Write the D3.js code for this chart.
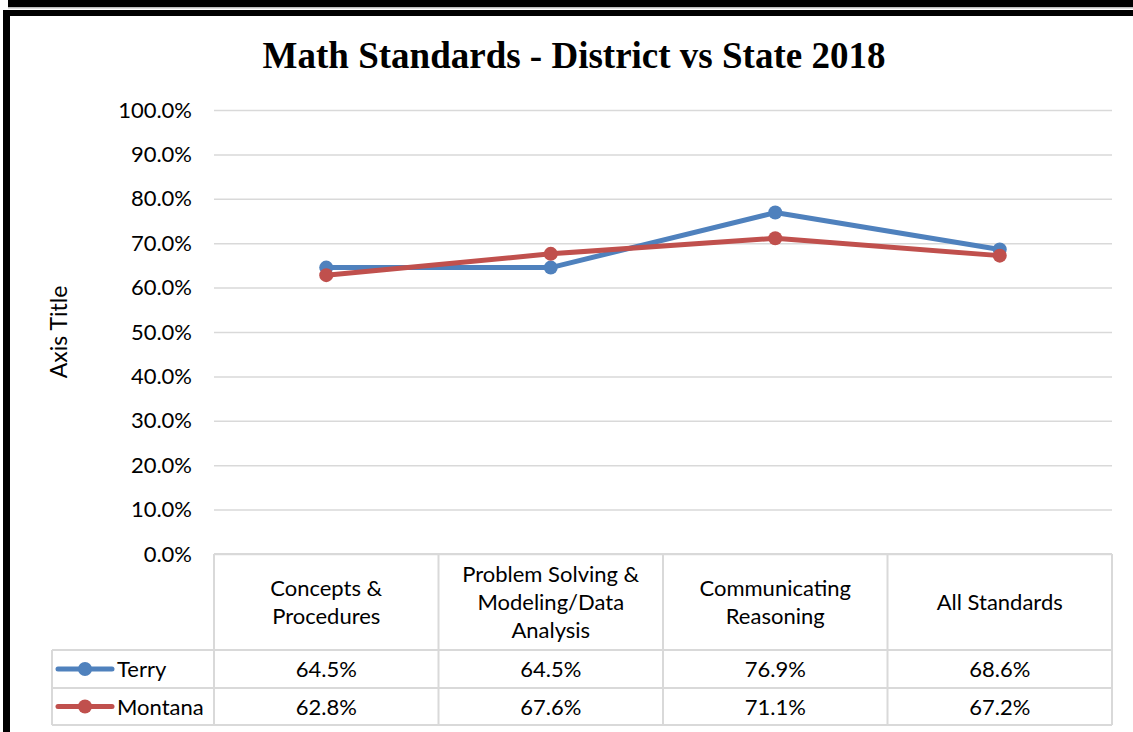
<!DOCTYPE html>
<html>
<head>
<meta charset="utf-8">
<script src="https://cdn.jsdelivr.net/npm/d3@7"></script>
<style>
  body { margin: 0; background: #fff; }
  svg { display: block; }
</style>
</head>
<body>
<div id="chart"></div>
<script>
var categories = [
  ['Concepts &', 'Procedures'],
  ['Problem Solving &', 'Modeling/Data', 'Analysis'],
  ['Communicating', 'Reasoning'],
  ['All Standards']
];
var seriesNames = ['Terry', 'Montana'];
var terryValues = [0.645, 0.645, 0.769, 0.686];
var montanaValues = [0.628, 0.676, 0.711, 0.672];
var yTicks = [0, 0.1, 0.2, 0.3, 0.4, 0.5, 0.6, 0.7, 0.8, 0.9, 1.0];

var svgwidth = 1133, svgheight = 732;
var colors = ['#4F81BD', '#C0504D'];
var bodyFont = 'Lato, "Open Sans", sans-serif';
var fontSize = 22;

var svg = d3.select('#chart')
  .append('svg')
    .attr('width', svgwidth)
    .attr('height', svgheight);

// frame lines (page border around the chart)
svg.append('rect').attr('x', 8).attr('y', 0).attr('width', svgwidth - 8).attr('height', 7).attr('fill', '#000');
svg.append('rect').attr('x', 8).attr('y', 7).attr('width', svgwidth - 8).attr('height', 1.5).attr('fill', '#BBBBBB');
svg.append('rect').attr('x', 3).attr('y', 10).attr('width', svgwidth - 3).attr('height', 6).attr('fill', '#000');
svg.append('rect').attr('x', 3).attr('y', 10).attr('width', 7).attr('height', svgheight - 10).attr('fill', '#000');

// title
svg.append('text')
  .attr('x', 574)
  .attr('y', 68)
  .attr('text-anchor', 'middle')
  .attr('font-family', '"Liberation Serif", "Times New Roman", serif')
  .attr('font-weight', 'bold')
  .attr('font-size', 37)
  .text('Math Standards - District vs State 2018');

var plot = { left: 214, right: 1112, top: 110, bottom: 554 };

var x = d3.scaleBand()
  .domain(d3.range(categories.length))
  .range([plot.left, plot.right]);

var y = d3.scaleLinear()
  .domain([0, 1])
  .range([plot.bottom, plot.top]);

// gridlines
var yAxis = d3.axisLeft(y)
  .tickValues(yTicks)
  .tickFormat(d3.format('.1%'))
  .tickSize(-(plot.right - plot.left))
  .tickPadding(22);

var gY = svg.append('g')
  .attr('transform', 'translate(' + plot.left + ',0)')
  .call(yAxis);
gY.select('.domain').remove();
gY.selectAll('.tick line')
  .attr('stroke', '#D9D9D9')
  .attr('stroke-width', 1.5);
gY.selectAll('.tick text')
  .attr('font-family', bodyFont)
  .attr('font-size', fontSize)
  .attr('fill', '#000');

// axis title
svg.append('text')
  .attr('transform', 'translate(67,332) rotate(-90)')
  .attr('text-anchor', 'middle')
  .attr('font-family', bodyFont)
  .attr('font-size', 23)
  .text('Axis Title');

// data table
var rowTop = [554, 650, 688, 725];
var tableLeft = 52;
var grid = svg.append('g')
  .attr('stroke', '#D9D9D9')
  .attr('stroke-width', 2)
  .attr('fill', 'none');

// horizontal table lines
grid.append('line').attr('x1', plot.left).attr('x2', plot.right).attr('y1', rowTop[0]).attr('y2', rowTop[0]);
[rowTop[1], rowTop[2], rowTop[3]].forEach(function(yy) {
  grid.append('line').attr('x1', tableLeft).attr('x2', plot.right).attr('y1', yy).attr('y2', yy);
});
// vertical table lines
d3.range(categories.length + 1).forEach(function(i) {
  var xx = i < categories.length ? x(i) : plot.right;
  grid.append('line').attr('x1', xx).attr('x2', xx).attr('y1', rowTop[0]).attr('y2', rowTop[3]);
});
grid.append('line').attr('x1', tableLeft).attr('x2', tableLeft).attr('y1', rowTop[1]).attr('y2', rowTop[3]);

// category labels
var headerMid = (rowTop[0] + rowTop[1]) / 2;
categories.forEach(function(lines, i) {
  var t = svg.append('text')
    .attr('text-anchor', 'middle')
    .attr('font-family', bodyFont)
    .attr('font-size', fontSize)
    .attr('fill', '#000');
  lines.forEach(function(l, j) {
    t.append('tspan')
      .attr('x', x(i) + x.bandwidth() / 2)
      .attr('y', headerMid + (j - (lines.length - 1) / 2) * 28 + 8)
      .text(l);
  });
});

var allSeries = [terryValues, montanaValues];

// value rows + legend keys
allSeries.forEach(function(values, s) {
  var cy = (rowTop[s + 1] + rowTop[s + 2]) / 2;
  svg.append('line')
    .attr('x1', 58).attr('x2', 112)
    .attr('y1', cy).attr('y2', cy)
    .attr('stroke', colors[s])
    .attr('stroke-width', 5)
    .attr('stroke-linecap', 'round');
  svg.append('circle')
    .attr('cx', 85).attr('cy', cy).attr('r', 7)
    .attr('fill', colors[s]);
  svg.append('text')
    .attr('x', 117).attr('y', cy + 8)
    .attr('font-family', bodyFont)
    .attr('font-size', fontSize)
    .text(seriesNames[s]);
  values.forEach(function(v, i) {
    svg.append('text')
      .attr('x', x(i) + x.bandwidth() / 2)
      .attr('y', cy + 8)
      .attr('text-anchor', 'middle')
      .attr('font-family', bodyFont)
      .attr('font-size', fontSize)
      .text(d3.format('.1%')(v));
  });
});

// lines and markers
var line = d3.line()
  .x(function(d, i) { return x(i) + x.bandwidth() / 2; })
  .y(function(d) { return y(d); });

allSeries.forEach(function(values, s) {
  svg.append('path')
    .datum(values)
    .attr('fill', 'none')
    .attr('stroke', colors[s])
    .attr('stroke-width', 5)
    .attr('stroke-linejoin', 'round')
    .attr('d', line);
  svg.selectAll('.pt' + s)
    .data(values)
    .enter().append('circle')
      .attr('cx', function(d, i) { return x(i) + x.bandwidth() / 2; })
      .attr('cy', function(d) { return y(d); })
      .attr('r', 7)
      .attr('fill', colors[s]);
});
</script>
</body>
</html>
